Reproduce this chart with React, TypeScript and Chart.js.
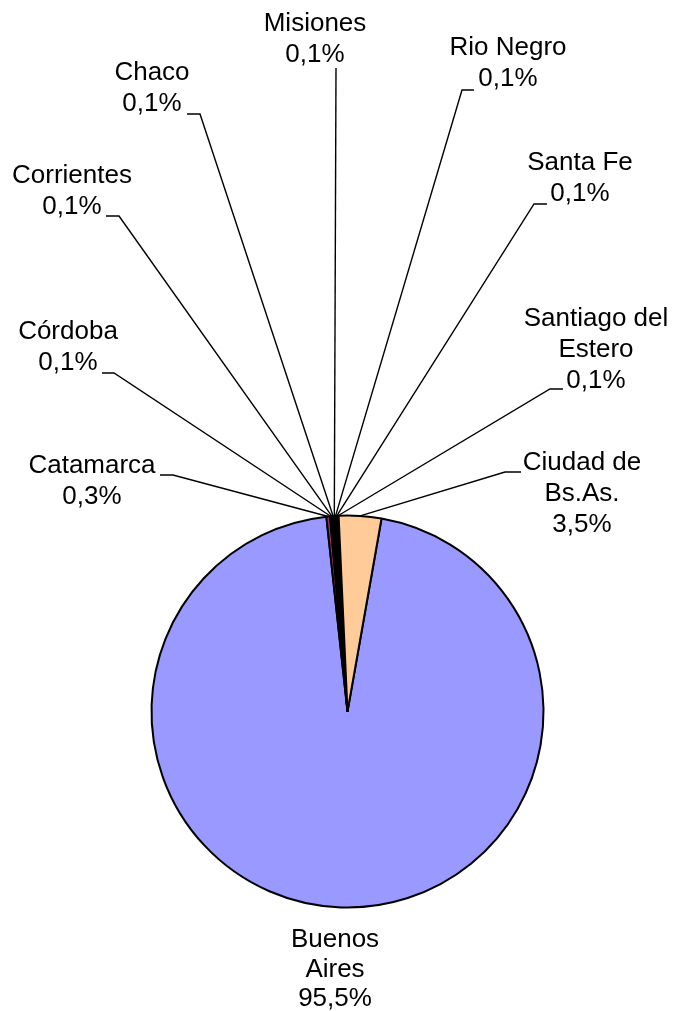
import React, { useEffect, useRef } from "react";
import { Chart, registerables } from "chart.js";

Chart.register(...registerables);

// ---- data ----
const categories = [
  "Buenos Aires",
  "Catamarca",
  "Córdoba",
  "Corrientes",
  "Chaco",
  "Misiones",
  "Rio Negro",
  "Santa Fe",
  "Santiago del Estero",
  "Ciudad de Bs.As.",
];
const shares = [95.5, 0.3, 0.1, 0.1, 0.1, 0.1, 0.1, 0.1, 0.1, 3.5];
const valueLabels = ["95,5%", "0,3%", "0,1%", "0,1%", "0,1%", "0,1%", "0,1%", "0,1%", "0,1%", "3,5%"];
const labelLines = [
  ["Buenos", "Aires"],
  ["Catamarca"],
  ["Córdoba"],
  ["Corrientes"],
  ["Chaco"],
  ["Misiones"],
  ["Rio Negro"],
  ["Santa Fe"],
  ["Santiago del", "Estero"],
  ["Ciudad de", "Bs.As."],
];
const sliceColors = [
  "#9999FF",
  "#993366",
  "#FFFFCC",
  "#CCFFFF",
  "#660066",
  "#FF8080",
  "#0066CC",
  "#CCCCFF",
  "#000080",
  "#FFCC99",
];

// ---- label layout (text centre x, first baseline y, line height, leader elbow & tick end) ----
type Lay = { x: number; y: number; lh?: number; elbow?: [number, number]; tickEnd?: number };
const labelLayout: Lay[] = [
  { x: 335, y: 947, lh: 29.5 },
  { x: 92, y: 473, elbow: [173, 475], tickEnd: 160 },
  { x: 68, y: 339, elbow: [114, 373], tickEnd: 102 },
  { x: 72, y: 183, elbow: [119, 216], tickEnd: 106 },
  { x: 152, y: 80, elbow: [200, 114], tickEnd: 187 },
  { x: 315, y: 31, elbow: [336, 68] },
  { x: 508, y: 55, elbow: [462, 90], tickEnd: 474 },
  { x: 580, y: 170, elbow: [534, 204], tickEnd: 547 },
  { x: 596, y: 326, elbow: [550, 389], tickEnd: 563 },
  { x: 582, y: 470, elbow: [505, 472], tickEnd: 521 },
];

const LINE_H = 31;
const FONT = '26px "Liberation Sans", Arial, sans-serif';

const labelPlugin = {
  id: "pieLabels",
  afterDatasetsDraw(chart: any) {
    const ctx = chart.ctx as CanvasRenderingContext2D;
    const meta = chart.getDatasetMeta(0);
    ctx.save();
    ctx.strokeStyle = "#000";
    ctx.lineWidth = 1.4;
    meta.data.forEach((el: any, i: number) => {
      const lay = labelLayout[i];
      if (!lay || !lay.elbow) return;
      const p = el.getProps(["x", "y", "startAngle", "endAngle", "outerRadius"], true);
      const mid = (p.startAngle + p.endAngle) / 2;
      const sx = p.x + Math.cos(mid) * p.outerRadius;
      const sy = p.y + Math.sin(mid) * p.outerRadius;
      ctx.beginPath();
      ctx.moveTo(sx, sy);
      ctx.lineTo(lay.elbow[0], lay.elbow[1]);
      if (lay.tickEnd !== undefined) ctx.lineTo(lay.tickEnd, lay.elbow[1]);
      ctx.stroke();
    });
    ctx.fillStyle = "#000";
    ctx.font = FONT;
    ctx.textAlign = "center";
    ctx.textBaseline = "alphabetic";
    categories.forEach((_c, i) => {
      const lay = labelLayout[i];
      const lh = lay.lh ?? LINE_H;
      const lines = [...labelLines[i], valueLabels[i]];
      lines.forEach((t, k) => ctx.fillText(t, lay.x, lay.y + k * lh));
    });
    ctx.restore();
  },
};

export default function App() {
  const ref = useRef<HTMLCanvasElement | null>(null);
  useEffect(() => {
    if (!ref.current) return;
    const chart = new Chart(ref.current, {
      type: "pie",
      data: {
        labels: categories,
        datasets: [
          {
            data: shares,
            backgroundColor: sliceColors,
            borderColor: "#000",
            borderWidth: 2,
          },
        ],
      },
      options: {
        responsive: false,
        animation: false,
        rotation: 10,
        radius: 196,
        layout: { padding: { left: 20, right: 0, top: 412, bottom: 0 } },
        plugins: {
          legend: { display: false },
          tooltip: { enabled: false },
        },
        events: [],
      } as any,
      plugins: [labelPlugin],
    });
    return () => chart.destroy();
  }, []);
  return (
    <div style={{ position: "absolute", left: 0, top: 0, width: 675, height: 1011, background: "#fff" }}>
      <canvas ref={ref} width={675} height={1011} style={{ display: "block" }} />
    </div>
  );
}
